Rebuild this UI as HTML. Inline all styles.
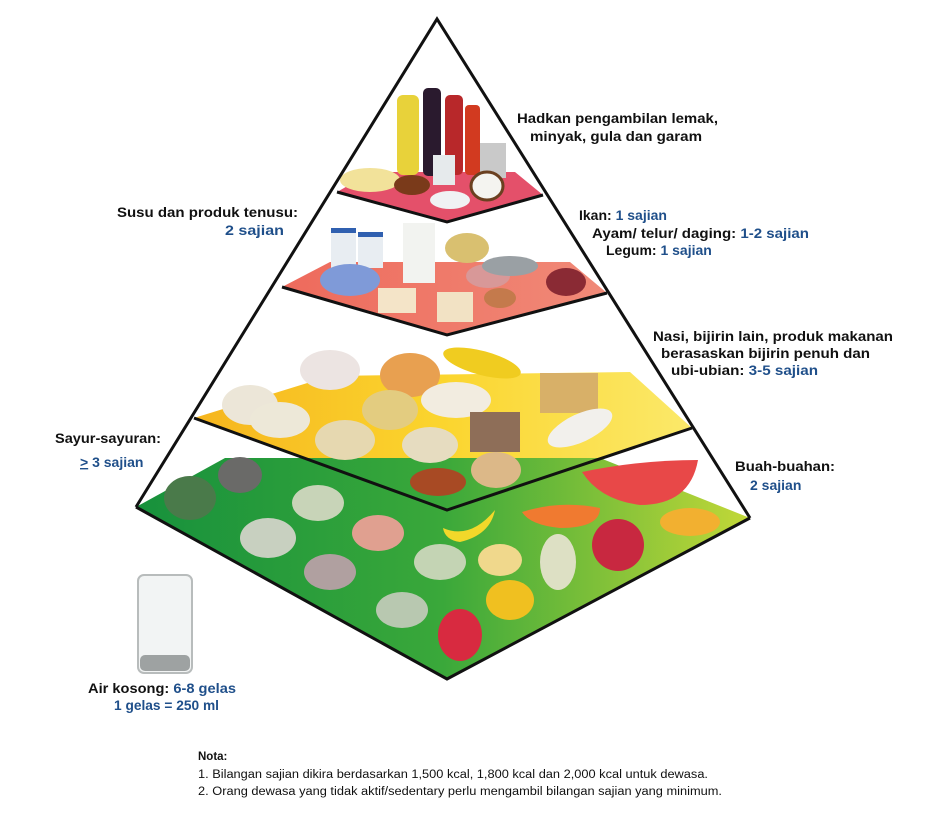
<!DOCTYPE html>
<html><head><meta charset="utf-8"><style>
html,body{margin:0;padding:0;background:#fff;}
svg{display:block;}
.t{font-family:"Liberation Sans",Arial,sans-serif;font-weight:bold;font-size:14px;fill:#111;}
.b{fill:#1f4f8a;}
.n{font-family:"Liberation Sans",Arial,sans-serif;font-size:11.5px;fill:#111;}
</style></head><body>
<svg width="940" height="813" viewBox="0 0 940 813" xmlns="http://www.w3.org/2000/svg">
<defs>
<linearGradient id="gy" x1="0" x2="1" y1="0" y2="0"><stop offset="0" stop-color="#f6b51e"/><stop offset="0.5" stop-color="#fbd52e"/><stop offset="1" stop-color="#fbe96a"/></linearGradient>
<linearGradient id="gg" x1="0" x2="1" y1="0" y2="0"><stop offset="0" stop-color="#17913c"/><stop offset="0.5" stop-color="#3aa83a"/><stop offset="1" stop-color="#c2d838"/></linearGradient>
<linearGradient id="gr" x1="0" x2="1"><stop offset="0" stop-color="#ee6a5c"/><stop offset="1" stop-color="#f08a78"/></linearGradient>
</defs>
<!-- floors -->
<polygon points="337,192 372,172 515,172 543,195 447,222" fill="#e4506a"/>
<polygon points="282,287 330,262 570,262 607,293 447,335" fill="url(#gr)"/>
<polygon points="194,418 330,376 630,372 692,428 447,510" fill="url(#gy)"/>
<polygon points="136,507 225,458 600,458 750,518 447,679" fill="url(#gg)"/>
<!-- top tier food -->
<rect x="397" y="95" width="22" height="80" rx="6" fill="#e8d23a"/>
<rect x="423" y="88" width="18" height="88" rx="5" fill="#2a1a2e"/>
<rect x="445" y="95" width="18" height="80" rx="5" fill="#b8282a"/>
<rect x="465" y="105" width="15" height="70" rx="4" fill="#d23a20"/>
<rect x="480" y="143" width="26" height="35" fill="#c9c9c9"/>
<rect x="433" y="155" width="22" height="30" fill="#e6eaec"/>
<ellipse cx="370" cy="180" rx="30" ry="12" fill="#f2e29a"/>
<ellipse cx="412" cy="185" rx="18" ry="10" fill="#7a3a1a"/>
<ellipse cx="450" cy="200" rx="20" ry="9" fill="#f0f2f4"/>
<ellipse cx="487" cy="186" rx="16" ry="14" fill="#f4f4f0" stroke="#6a4020" stroke-width="3"/>
<!-- dairy/protein tier -->
<rect x="331" y="228" width="25" height="40" fill="#e8edf2"/>
<rect x="358" y="232" width="25" height="36" fill="#e8edf2"/>
<rect x="331" y="228" width="25" height="5" fill="#3060b0"/>
<rect x="358" y="232" width="25" height="5" fill="#3060b0"/>
<rect x="403" y="223" width="32" height="60" fill="#f2f3f0"/>
<ellipse cx="350" cy="280" rx="30" ry="16" fill="#7f9ad8"/>
<ellipse cx="467" cy="248" rx="22" ry="15" fill="#d9c070"/>
<rect x="378" y="288" width="38" height="25" fill="#f4e4c8"/>
<rect x="437" y="292" width="36" height="30" fill="#f2e2c4"/>
<ellipse cx="488" cy="276" rx="22" ry="12" fill="#d89898"/>
<ellipse cx="510" cy="266" rx="28" ry="10" fill="#9aa0a4"/>
<ellipse cx="500" cy="298" rx="16" ry="10" fill="#c47a4c"/>
<ellipse cx="566" cy="282" rx="20" ry="14" fill="#8a2a34"/>
<!-- grain tier -->
<ellipse cx="410" cy="375" rx="30" ry="22" fill="#e8a050"/>
<ellipse cx="482" cy="363" rx="40" ry="12" fill="#f0cc20" transform="rotate(15 482 363)"/>
<rect x="540" y="373" width="58" height="40" fill="#d8b068"/>
<ellipse cx="456" cy="400" rx="35" ry="18" fill="#f2ece0"/>
<rect x="470" y="412" width="50" height="40" fill="#8e6e58"/>
<ellipse cx="250" cy="405" rx="28" ry="20" fill="#ece6d8"/>
<ellipse cx="330" cy="370" rx="30" ry="20" fill="#ece4e2"/>
<ellipse cx="280" cy="420" rx="30" ry="18" fill="#ede8d8"/>
<ellipse cx="390" cy="410" rx="28" ry="20" fill="#e3cc80"/>
<ellipse cx="345" cy="440" rx="30" ry="20" fill="#e6d8b0"/>
<ellipse cx="430" cy="445" rx="28" ry="18" fill="#e6dcc0"/>
<ellipse cx="580" cy="428" rx="35" ry="14" fill="#f2f0ec" transform="rotate(-25 580 428)"/>
<ellipse cx="438" cy="482" rx="28" ry="14" fill="#a84a24"/>
<ellipse cx="496" cy="470" rx="25" ry="18" fill="#dcb888"/>
<!-- veg tier -->
<ellipse cx="190" cy="498" rx="26" ry="22" fill="#4a7a4a"/>
<ellipse cx="240" cy="475" rx="22" ry="18" fill="#6a6a68"/>
<ellipse cx="318" cy="503" rx="26" ry="18" fill="#c8d4b8"/>
<ellipse cx="268" cy="538" rx="28" ry="20" fill="#c8d0c0"/>
<ellipse cx="378" cy="533" rx="26" ry="18" fill="#e0a090"/>
<ellipse cx="330" cy="572" rx="26" ry="18" fill="#b0a0a0"/>
<ellipse cx="440" cy="562" rx="26" ry="18" fill="#c4d4b4"/>
<ellipse cx="402" cy="610" rx="26" ry="18" fill="#b8c8b0"/>
<!-- fruit -->
<path d="M582,472 Q640,460 698,460 Q690,505 640,505 Q600,500 582,472Z" fill="#e84848"/>
<path d="M522,512 Q560,500 600,508 Q600,528 560,528 Q530,525 522,512Z" fill="#f07a30"/>
<ellipse cx="690" cy="522" rx="30" ry="14" fill="#f2b030"/>
<path d="M443,528 Q470,540 495,510 Q490,535 460,542 Q445,540 443,528Z" fill="#f2d82a"/>
<ellipse cx="500" cy="560" rx="22" ry="16" fill="#f0d88c"/>
<ellipse cx="558" cy="562" rx="18" ry="28" fill="#dde0c4"/>
<ellipse cx="618" cy="545" rx="26" ry="26" fill="#c82840"/>
<ellipse cx="510" cy="600" rx="24" ry="20" fill="#f0c020"/>
<ellipse cx="460" cy="635" rx="22" ry="26" fill="#d82a40"/>
<!-- water glass -->
<rect x="138" y="575" width="54" height="98" rx="6" fill="#f2f4f4" stroke="#b8bcbc" stroke-width="2"/>
<rect x="140" y="655" width="50" height="16" rx="5" fill="#9ea2a2"/>
<!-- pyramid lines -->
<g fill="none" stroke="#111" stroke-width="3" stroke-linejoin="miter">
<polyline points="136,507 437,19 750,518"/>
<polyline points="136,507 447,679 750,518"/>
<polyline points="337,192 447,222 543,195"/>
<polyline points="282,287 447,335 607,293"/>
<polyline points="194,418 447,510 692,428"/>
</g>
<!-- labels -->
<text class="t" x="517" y="123" textLength="201" lengthAdjust="spacingAndGlyphs">Hadkan pengambilan lemak,</text>
<text class="t" x="530" y="141" textLength="172" lengthAdjust="spacingAndGlyphs">minyak, gula dan garam</text>
<text class="t" x="117" y="217" textLength="181" lengthAdjust="spacingAndGlyphs">Susu dan produk tenusu:</text>
<text class="t b" x="225" y="235" textLength="59" lengthAdjust="spacingAndGlyphs">2 sajian</text>
<text class="t" x="579" y="220">Ikan: <tspan class="b">1 sajian</tspan></text>
<text class="t" x="592" y="238" textLength="217" lengthAdjust="spacingAndGlyphs">Ayam/ telur/ daging: <tspan class="b">1-2 sajian</tspan></text>
<text class="t" x="606" y="255">Legum: <tspan class="b">1 sajian</tspan></text>
<text class="t" x="653" y="341" textLength="240" lengthAdjust="spacingAndGlyphs">Nasi, bijirin lain, produk makanan</text>
<text class="t" x="661" y="358" textLength="209" lengthAdjust="spacingAndGlyphs">berasaskan bijirin penuh dan</text>
<text class="t" x="671" y="375" textLength="147" lengthAdjust="spacingAndGlyphs">ubi-ubian: <tspan class="b">3-5 sajian</tspan></text>
<text class="t" x="55" y="443" textLength="106" lengthAdjust="spacingAndGlyphs">Sayur-sayuran:</text>
<text class="t b" x="80" y="467"><tspan text-decoration="underline">&gt;</tspan> 3 sajian</text>
<text class="t" x="735" y="471" textLength="100" lengthAdjust="spacingAndGlyphs">Buah-buahan:</text>
<text class="t b" x="750" y="490">2 sajian</text>
<text class="t" x="88" y="693" textLength="148" lengthAdjust="spacingAndGlyphs">Air kosong: <tspan class="b">6-8 gelas</tspan></text>
<text class="t b" x="114" y="710" textLength="105" lengthAdjust="spacingAndGlyphs">1 gelas = 250 ml</text>
<text class="n" x="198" y="760" font-weight="bold" style="font-weight:bold">Nota:</text>
<text class="n" x="198" y="778" textLength="510" lengthAdjust="spacingAndGlyphs">1. Bilangan sajian dikira berdasarkan 1,500 kcal, 1,800 kcal dan 2,000 kcal untuk dewasa.</text>
<text class="n" x="198" y="795" textLength="524" lengthAdjust="spacingAndGlyphs">2. Orang dewasa yang tidak aktif/sedentary perlu mengambil bilangan sajian yang minimum.</text>
</svg>
</body></html>
